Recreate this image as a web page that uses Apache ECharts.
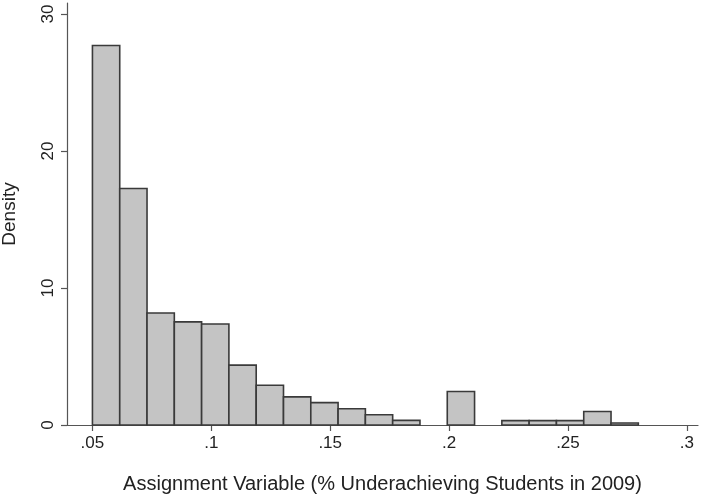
<!DOCTYPE html>
<html><head><meta charset="utf-8">
<script src="https://cdn.jsdelivr.net/npm/echarts@6/dist/echarts.min.js"></script>
<style>html,body{margin:0;padding:0;background:#fff}#c{width:701px;height:496px}</style>
</head><body><div id="c"></div>
<script>
// Histogram data (density per bin)
const binStart = 0.05;
const binWidth = 0.01148;
const densities = [27.7, 17.26, 8.17, 7.53, 7.37, 4.37, 2.9, 2.05, 1.63, 1.19, 0.75, 0.34, 0, 2.44, 0, 0.32, 0.32, 0.32, 0.98, 0.15];
const xTicks = [0.05, 0.1, 0.15, 0.2, 0.25, 0.3];
const xTickLabels = ['.05', '.1', '.15', '.2', '.25', '.3'];
const yTicks = [0, 10, 20, 30];
const xTitle = 'Assignment Variable (% Underachieving Students in 2009)';
const yTitle = 'Density';

const data = densities.map((d, i) => [binStart + i * binWidth, binStart + (i + 1) * binWidth, d]);
const font = 'Liberation Sans, Arial, sans-serif';
const chart = echarts.init(document.getElementById('c'));
chart.setOption({
  animation: false,
  grid: {left: 67, right: 3, top: 3, bottom: 71, containLabel: false, outerBoundsMode: 'none'},
  xAxis: {
    type: 'value', min: 0.0393, max: 0.3047,
    axisLine: {show: true, onZero: false, lineStyle: {color: '#555', width: 1.2}},
    axisTick: {show: true, length: 6, lineStyle: {color: '#555', width: 1.2}, customValues: xTicks},
    axisLabel: {customValues: xTicks, formatter: v => xTickLabels[xTicks.findIndex(t => Math.abs(t - v) < 1e-9)] || '', color: '#222', fontSize: 17, fontFamily: font, margin: 10},
    splitLine: {show: false},
    name: xTitle, nameLocation: 'middle', nameGap: 49,
    nameTextStyle: {color: '#222', fontSize: 20, fontFamily: font}
  },
  yAxis: {
    type: 'value', min: 0, max: 30.8,
    axisLine: {show: true, lineStyle: {color: '#555', width: 1.2}},
    axisTick: {show: true, length: 6, lineStyle: {color: '#555', width: 1.2}, customValues: yTicks},
    axisLabel: {customValues: yTicks, rotate: 90, color: '#222', fontSize: 17, fontFamily: font, margin: 10},
    splitLine: {show: false},
    name: yTitle, nameLocation: 'middle', nameGap: 48, nameRotate: 90,
    nameTextStyle: {color: '#222', fontSize: 19, fontFamily: font}
  },
  series: [{
    type: 'custom',
    data: data,
    renderItem: function (params, api) {
      const h = api.value(2);
      if (h <= 0) return null;
      const p0 = api.coord([api.value(0), 0]);
      const p1 = api.coord([api.value(1), h]);
      return {
        type: 'rect',
        shape: {x: p0[0], y: p1[1], width: p1[0] - p0[0], height: p0[1] - p1[1]},
        style: {fill: '#c4c4c4', stroke: '#3a3a3a', lineWidth: 1.6}
      };
    },
    encode: {x: [0, 1], y: 2}
  }]
});
</script></body></html>
